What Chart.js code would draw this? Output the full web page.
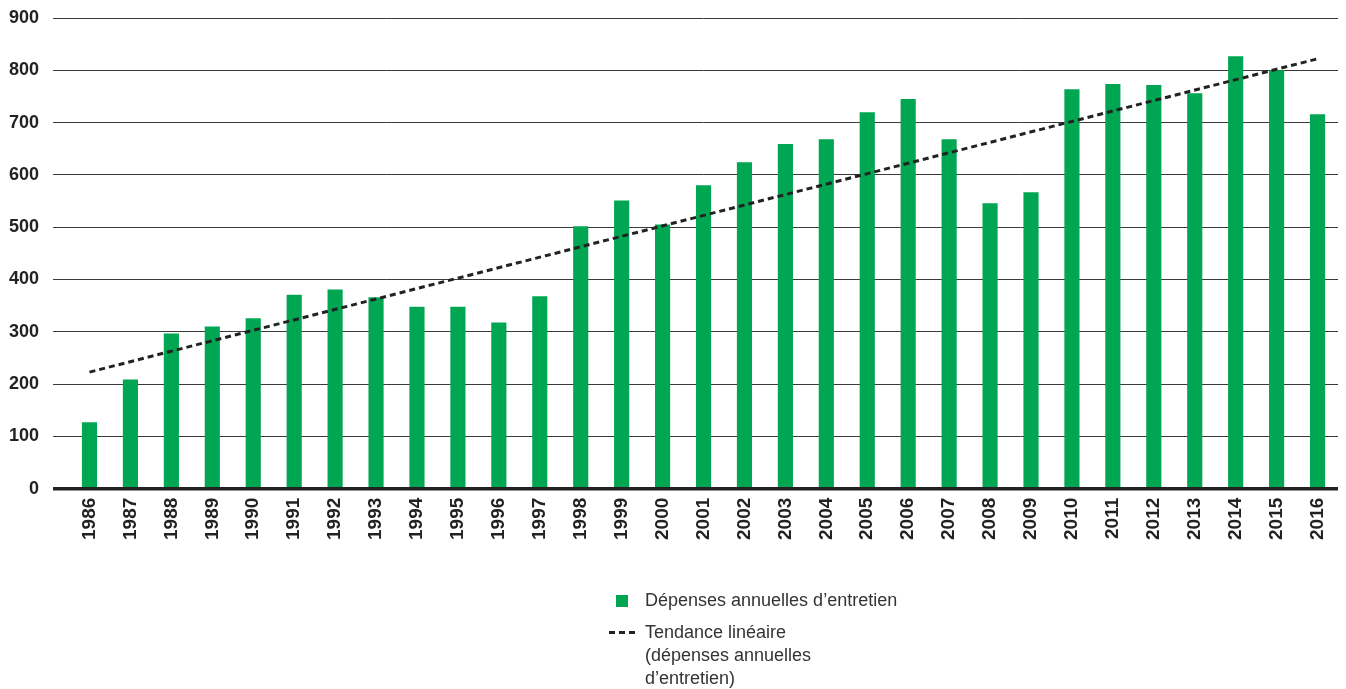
<!DOCTYPE html>
<html lang="fr">
<head>
<meta charset="utf-8">
<script src="https://cdn.jsdelivr.net/npm/chart.js@4/dist/chart.umd.min.js"></script>
<style>
  html, body { margin: 0; padding: 0; background: #fff; }
  #wrap { position: relative; width: 1346px; height: 689px; }
  #c { position: absolute; left: 0; top: 0; }
  #legend { position: absolute; left: 606px; top: 589px; font-family: "Liberation Sans", Arial, sans-serif; font-size: 18px; color: #333; }
  .item { position: relative; padding-left: 39px; line-height: 23px; }
  .sw-bar { position: absolute; left: 10px; top: 6px; width: 12px; height: 12px; }
  .sw-line { position: absolute; left: 3px; top: 10px; width: 26px; height: 3px; background: repeating-linear-gradient(to right, #222 0 6px, transparent 6px 10px); }
</style>
</head>
<body>
<div id="wrap">
  <canvas id="c" width="1346" height="689"></canvas>
  <div id="legend"></div>
</div>
<script>
const years = ['1986','1987','1988','1989','1990','1991','1992','1993','1994','1995','1996','1997','1998','1999','2000','2001','2002','2003','2004','2005','2006','2007','2008','2009','2010','2011','2012','2013','2014','2015','2016'];
const depenses = [127, 209, 297, 310, 326, 371, 381, 366, 348, 348, 318, 368, 502, 551, 505, 580, 624, 659, 668, 720, 745, 668, 546, 567, 764, 774, 772, 756, 827, 800, 716];
const trendStart = 223;
const trendEnd = 822;
const yTicks = [0, 100, 200, 300, 400, 500, 600, 700, 800, 900];
const barLabel = 'Dépenses annuelles d’entretien';
const trendLabel = ['Tendance linéaire', '(dépenses annuelles', 'd’entretien)'];

const trendData = years.map((y, i) => i === 0 ? trendStart : (i === years.length - 1 ? trendEnd : null));
const green = '#00a651';

const chart = new Chart(document.getElementById('c'), {
  data: {
    labels: years,
    datasets: [
      {
        type: 'line',
        label: trendLabel.join(' '),
        data: trendData,
        spanGaps: true,
        borderColor: '#222',
        borderWidth: 3,
        borderDash: [6, 4],
        pointRadius: 0,
        fill: false,
        order: 0
      },
      {
        type: 'bar',
        label: barLabel,
        data: depenses,
        backgroundColor: green,
        borderWidth: 0,
        categoryPercentage: 1,
        barPercentage: 0.37,
        order: 1
      }
    ]
  },
  options: {
    responsive: false,
    animation: false,
    layout: { padding: { left: -5, right: 8, top: 18, bottom: 140 } },
    plugins: { legend: { display: false }, tooltip: { enabled: false } },
    scales: {
      x: {
        offset: true,
        afterFit: (s) => { s.paddingRight = 0; },
        grid: { display: false, drawTicks: false },
        border: { display: false },
        ticks: {
          minRotation: 90, maxRotation: 90, autoSkip: false, padding: 9,
          color: '#222',
          font: { family: '"Liberation Sans", Arial, sans-serif', size: 19, weight: 'bold' }
        }
      },
      y: {
        min: 0, max: 900,
        afterBuildTicks: (s) => { s.ticks = yTicks.map(v => ({ value: v })); },
        afterFit: (s) => { s.paddingTop = 0; },
        border: { display: false },
        grid: {
          color: (ctx) => ctx.tick && ctx.tick.value === 0 ? '#222' : '#3a3a3a',
          lineWidth: (ctx) => ctx.tick && ctx.tick.value === 0 ? 3.5 : 1,
          tickLength: 16,
          drawTicks: true
        },
        ticks: {
          padding: 14,
          color: '#222',
          font: { family: '"Liberation Sans", Arial, sans-serif', size: 18, weight: 'bold' }
        }
      }
    }
  }
});

// HTML legend built from the datasets
const legend = document.getElementById('legend');
const it1 = document.createElement('div');
it1.className = 'item';
it1.innerHTML = '<span class="sw-bar" style="background:' + green + '"></span>' + barLabel;
legend.appendChild(it1);
const it2 = document.createElement('div');
it2.className = 'item';
it2.style.marginTop = '9px';
it2.innerHTML = '<span class="sw-line"></span>' + trendLabel.join('<br>');
legend.appendChild(it2);
</script>
</body>
</html>
